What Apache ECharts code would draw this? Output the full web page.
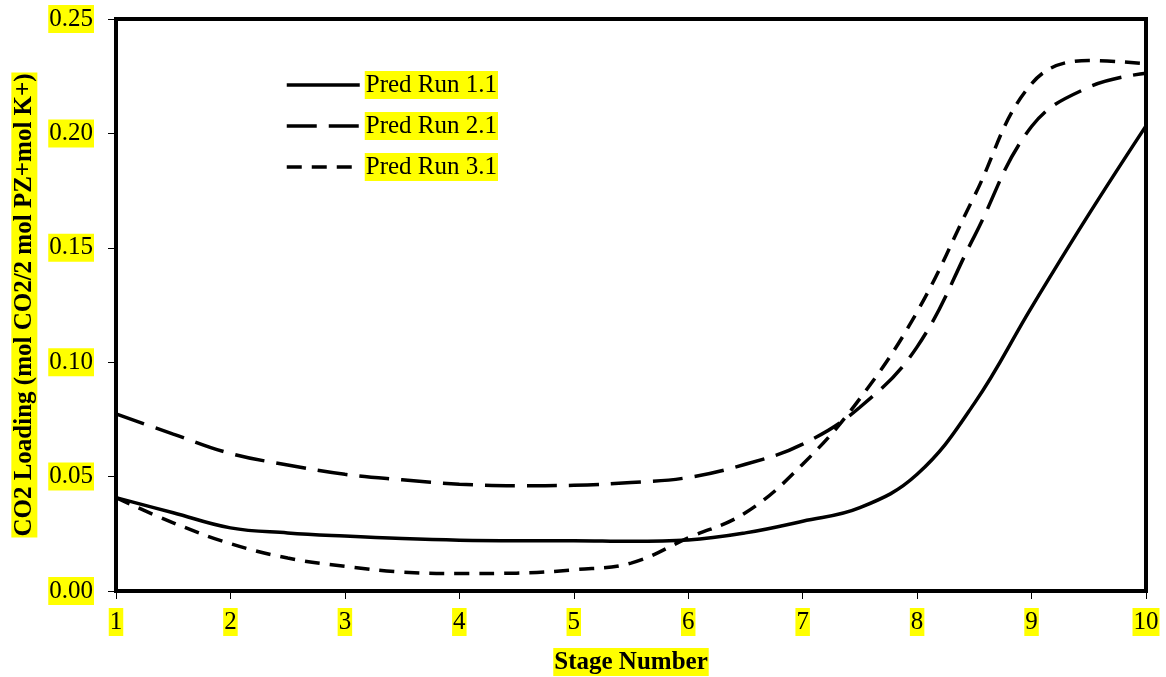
<!DOCTYPE html>
<html><head><meta charset="utf-8">
<script src="https://cdn.jsdelivr.net/npm/echarts@6/dist/echarts.min.js"></script>
<style>html,body{margin:0;padding:0;background:#fff}#c{width:1166px;height:677px}</style>
</head><body><div id="c"></div>
<script>
const stages = [1,1.5,2,2.5,3,3.5,4,4.5,5,5.5,6,6.5,7,7.5,8,8.5,9,9.5,10];
const run11 = [0.0408,0.0342,0.0276,0.0254,0.0240,0.0229,0.0222,0.0220,0.0220,0.0217,0.0223,0.0254,0.0305,0.0364,0.0510,0.0820,0.1240,0.1646,0.2033];
const run21 = [0.0774,0.0686,0.0601,0.0551,0.0510,0.0486,0.0467,0.0460,0.0462,0.0474,0.0496,0.0554,0.0642,0.0803,0.1067,0.1550,0.2030,0.2202,0.2263];
const run31 = [0.0408,0.0298,0.0207,0.0144,0.0108,0.0083,0.0076,0.0078,0.0093,0.0122,0.0232,0.0342,0.0554,0.0841,0.1220,0.1726,0.2217,0.2319,0.2304];
const yTicks = ['0.00','0.05','0.10','0.15','0.20','0.25'];
const names = ['Pred Run 1.1','Pred Run 2.1','Pred Run 3.1'];

const font = 'Liberation Serif';
const dashLong = [30,12];
const dashShort = [15,10];
const mk = (arr) => stages.map((s,i)=>[s,arr[i]]);
const chart = echarts.init(document.getElementById('c'), null, {renderer:'canvas'});
chart.setOption({
  animation:false,
  backgroundColor:'#fff',
  grid:{left:116,right:20,top:19,bottom:86,outerBoundsMode:'none',containLabel:false,
        show:true,borderColor:'#000',borderWidth:4,backgroundColor:'transparent'},
  legend:{
    left:280, top:66, orient:'vertical', itemGap:13, itemWidth:73, itemHeight:14,
    itemStyle:{opacity:0},
    data:[
      {name:names[0],lineStyle:{width:3.5,type:'solid',color:'#000'}},
      {name:names[1],lineStyle:{width:3.5,type:dashLong,color:'#000'}},
      {name:names[2],lineStyle:{width:3.5,type:dashShort,color:'#000'}}
    ],
    textStyle:{fontFamily:font,fontSize:25,color:'#000',backgroundColor:'#ffff00',padding:[2,1,1,1]}
  },
  xAxis:{
    type:'value', min:1, max:10, interval:1,
    name:'Stage Number', nameLocation:'middle', nameGap:57,
    nameTextStyle:{fontFamily:font,fontSize:25,fontWeight:'bold',color:'#000',backgroundColor:'#ffff00',padding:[2,1,1,1]},
    axisLine:{show:true,lineStyle:{color:'#000',width:4}},
    axisTick:{show:true,inside:false,length:8,lineStyle:{color:'#000',width:1}},
    axisLabel:{fontFamily:font,fontSize:25,color:'#000',margin:17,backgroundColor:'#ffff00',padding:[2,1,1,1]},
    splitLine:{show:false}
  },
  yAxis:{
    type:'value', min:0, max:0.25, interval:0.05,
    name:'CO2 Loading (mol CO2/2 mol PZ+mol K+)', nameLocation:'middle', nameGap:78, nameRotate:90,
    nameTextStyle:{fontFamily:font,fontSize:25,fontWeight:'bold',color:'#000',backgroundColor:'#ffff00',padding:[1,1,0,1]},
    axisLine:{show:true,lineStyle:{color:'#000',width:4}},
    axisTick:{show:true,inside:false,length:8,lineStyle:{color:'#000',width:1}},
    axisLabel:{fontFamily:font,fontSize:25,color:'#000',margin:22,backgroundColor:'#ffff00',padding:[2,1,1,1],
      formatter:(v)=>yTicks[Math.round(v/0.05)]},
    splitLine:{show:false}
  },
  series:[
    {name:names[0],type:'line',data:mk(run11),smooth:0.4,symbol:'none',
     lineStyle:{color:'#000',width:3.5,type:'solid'},itemStyle:{color:'#000'}},
    {name:names[1],type:'line',data:mk(run21),smooth:0.4,symbol:'none',
     lineStyle:{color:'#000',width:3.5,type:dashLong},itemStyle:{color:'#000'}},
    {name:names[2],type:'line',data:mk(run31),smooth:0.4,symbol:'none',
     lineStyle:{color:'#000',width:3.5,type:dashShort},itemStyle:{color:'#000'}}
  ]
});
</script></body></html>
